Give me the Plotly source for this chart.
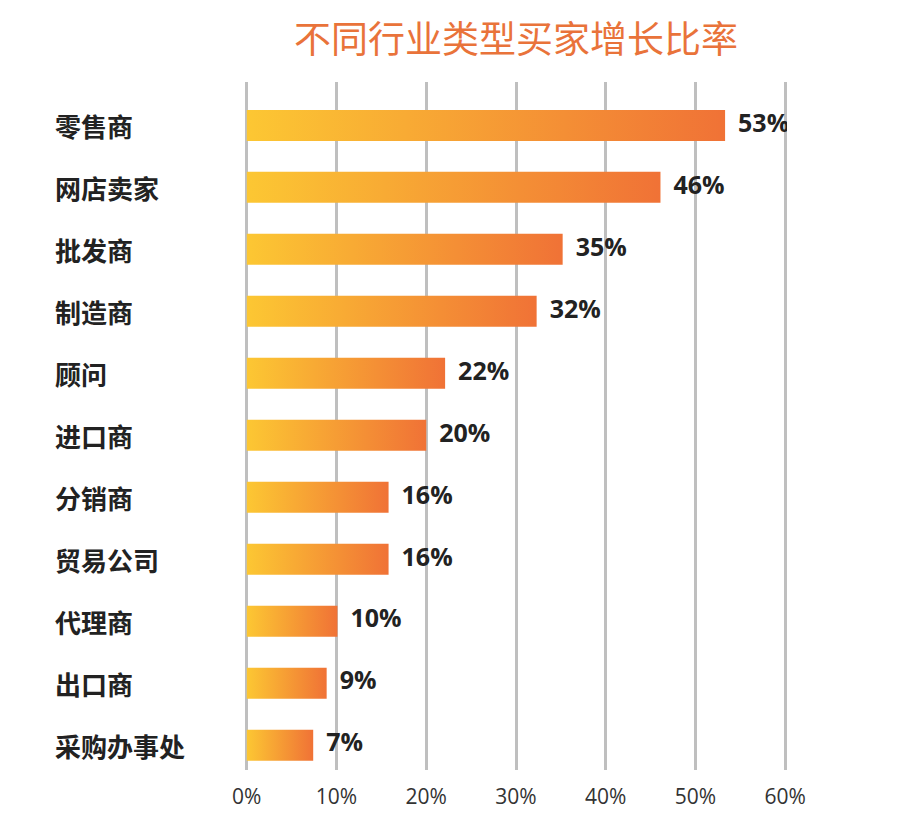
import plotly.graph_objects as go

# Data
categories = ["零售商", "网店卖家", "批发商", "制造商", "顾问", "进口商",
              "分销商", "贸易公司", "代理商", "出口商", "采购办事处"]
growth = [53.3, 46.1, 35.2, 32.3, 22.1, 20.0, 15.8, 15.8, 10.1, 8.9, 7.4]
value_labels = ["53%", "46%", "35%", "32%", "22%", "20%",
                "16%", "16%", "10%", "9%", "7%"]
x_ticks = [0, 10, 20, 30, 40, 50, 60]
x_tick_text = ["0%", "10%", "20%", "30%", "40%", "50%", "60%"]

title_text = "不同行业类型买家增长比率"

cjk = "Noto Sans CJK SC"
half = 0.25  # half bar thickness in row units

fig = go.Figure()

# one filled shape per bar so each gets its own yellow->orange gradient
for i, (cat, v) in enumerate(zip(categories, growth)):
    fig.add_trace(
        go.Scatter(x=[0, v, v, 0, 0],
                   y=[i - half, i - half, i + half, i + half, i - half],
                   mode="lines",
                   line=dict(width=0),
                   fill="toself",
                   fillgradient=dict(type="horizontal",
                                     colorscale=[[0, "#FCC733"], [1, "#F07236"]]),
                   hoverinfo="skip",
                   name=cat,
                   showlegend=False))

# value labels at the bar ends
fig.add_trace(
    go.Scatter(x=growth,
               y=list(range(len(categories))),
               mode="text",
               text=value_labels,
               textposition="middle right",
               textfont=dict(family="Open Sans", size=25, color="#222222"),
               texttemplate="  <b>%{text}</b>",
               hoverinfo="skip",
               showlegend=False))

# category labels, left aligned
annotations = []
for i, cat in enumerate(categories):
    annotations.append(dict(x=-0.355, y=i, xref="paper", yref="y",
                            text="<b>" + cat + "</b>",
                            showarrow=False, xanchor="left", yanchor="middle",
                            font=dict(family=cjk, size=26, color="#222222")))

fig.update_layout(
    width=902, height=832,
    paper_bgcolor="white",
    plot_bgcolor="white",
    margin=dict(l=245, r=115, t=82, b=62),
    title=dict(text=title_text, x=0.5, xref="paper", xanchor="center",
               y=0.952, yanchor="middle",
               font=dict(family=cjk, size=37, color="#E9733A")),
    annotations=annotations,
    xaxis=dict(range=[-0.2, 60.2], tickvals=x_ticks, ticktext=x_tick_text,
               showgrid=True, gridcolor="#BFBFBF", gridwidth=2.5,
               zeroline=False, showline=False, ticks="",
               ticklabelstandoff=12,
               tickfont=dict(family="Open Sans", size=21, color="#333333")),
    yaxis=dict(range=[10.4, -0.7], showgrid=False, zeroline=False,
               showticklabels=False, showline=False, ticks=""),
)

fig.write_html("out.html", config={"displayModeBar": False},
               post_script="document.body.style.margin='0';")
